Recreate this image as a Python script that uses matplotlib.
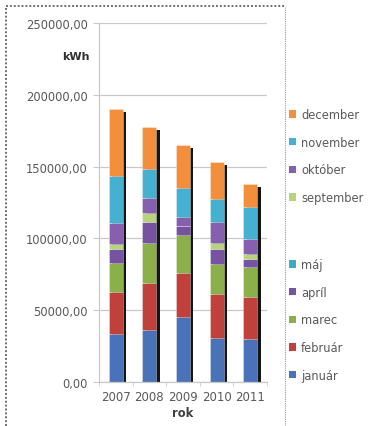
import matplotlib
matplotlib.use("Agg")
import matplotlib.pyplot as plt
import matplotlib.transforms as mtransforms
from matplotlib.lines import Line2D
from matplotlib.patches import Patch
import numpy as np

plt.rcParams['font.family'] = ['DejaVu Sans']

# Monthly consumption (kWh) per year
years = ["2007", "2008", "2009", "2010", "2011"]
januar    = [33700, 36500, 45300, 30900, 30200]
februar   = [29100, 32500, 30900, 30600, 29200]
marec     = [20000, 27800, 26300, 20700, 20600]
april     = [9500, 14700, 6000, 10300, 5500]
maj       = [0, 0, 0, 0, 0]
september = [3900, 6500, 300, 4400, 3300]
oktober   = [14800, 10000, 6400, 14600, 10500]
november  = [32400, 20100, 20100, 16200, 22400]
december  = [47000, 29700, 29700, 25200, 16100]

series = [
    ("január", januar, "#4A72B8"),
    ("február", februar, "#C0413B"),
    ("marec", marec, "#8BB04A"),
    ("apríl", april, "#7653A0"),
    ("máj", maj, "#3FA9C9"),
    ("september", september, "#B9D37C"),
    ("október", oktober, "#8660AE"),
    ("november", november, "#45B0D0"),
    ("december", december, "#F28E3C"),
]

text_col = "#595959"
grid_col = "#C9C9C9"

fig = plt.figure(figsize=(3.70, 4.27), dpi=100)
ax = fig.add_axes([99 / 370, 44 / 427, 168 / 370, 359 / 427])

x = np.arange(len(years))
width = 0.42
totals = np.sum([s[1] for s in series], axis=0)

# dark drop shadow behind each column
shadow_tr = mtransforms.offset_copy(ax.transData, fig=fig, x=3.4, y=-3, units='dots')
ax.bar(x, totals, width, color="#151515", transform=shadow_tr, zorder=1)

bottom = np.zeros(len(years))
for name, vals, col in series:
    ax.bar(x, vals, width, bottom=bottom, color=col, edgecolor=(1, 1, 1, 0.55),
           linewidth=0.4, zorder=2)
    bottom += np.array(vals)

ax.set_xlim(-0.5, len(years) - 0.5)
ax.set_ylim(0, 250000)
yt = np.arange(0, 250001, 50000)
ax.set_yticks(yt)
ax.set_yticklabels([f"{v:.2f}".replace(".", ",") for v in yt])
ax.yaxis.grid(True, color=grid_col, linewidth=0.9)
ax.set_axisbelow(True)
ax.tick_params(axis='y', length=4, color=grid_col, labelsize=8.3, labelcolor=text_col, pad=4)

ax.set_xticks(x)
ax.set_xticklabels(years)
ax.set_xticks(np.arange(-0.5, len(years), 1.0), minor=True)
ax.tick_params(axis='x', which='major', length=0, labelsize=8.5, labelcolor=text_col, pad=6)
ax.tick_params(axis='x', which='minor', length=3, color=grid_col)

for side in ("top", "right"):
    ax.spines[side].set_visible(False)
for side in ("left", "bottom"):
    ax.spines[side].set_color(grid_col)
    ax.spines[side].set_linewidth(0.9)

ax.set_xlabel("rok", fontsize=8.3, fontweight="bold", color="#404040", labelpad=2)
ax.text(-0.054, 0.908, "kWh", transform=ax.transAxes, ha="right", va="center",
        fontsize=8, fontweight="bold", color="#303030")

# legend split in two groups (autumn/winter months on top, spring months below)
def make_handles(names):
    lookup = {n: c for n, _, c in series}
    return [Patch(facecolor=lookup[n], edgecolor="none") for n in names]

upper = ["december", "november", "október", "september"]
lower = ["máj", "apríl", "marec", "február", "január"]
common = dict(frameon=False, fontsize=8.3, labelcolor=text_col, handlelength=0.6,
              handleheight=0.6, handletextpad=0.45, borderpad=0, borderaxespad=0,
              labelspacing=1.27, loc="upper left")
leg1 = fig.legend(make_handles(upper), upper, bbox_to_anchor=(289 / 370, 1 - 109 / 427), **common)
leg2 = fig.legend(make_handles(lower), lower, bbox_to_anchor=(289 / 370, 1 - 259 / 427), **common)

# chart frame
frame = dict(color="#6E6E6E", linewidth=1.4, linestyle=(0, (1, 1)), transform=fig.transFigure)
fig.add_artist(Line2D([6 / 370, 6 / 370], [0, 1 - 7 / 427], **frame))
fig.add_artist(Line2D([6 / 370, 285 / 370], [1 - 7 / 427, 1 - 7 / 427], **frame))
fig.add_artist(Line2D([285 / 370, 285 / 370], [0, 1 - 7 / 427], color="#9A9A9A",
                      linewidth=0.8, linestyle=(0, (1, 1)), transform=fig.transFigure))

fig.savefig("out.png", dpi=100, facecolor="white")
